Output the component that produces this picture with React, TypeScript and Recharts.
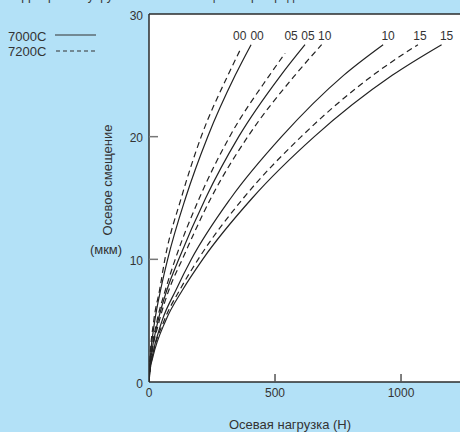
import { LineChart, Line, XAxis, YAxis, CartesianGrid, ReferenceLine } from 'recharts'

const xTicks = [0, 500, 1000]
const yTicks = [0, 10, 20, 30]

// [осевая нагрузка (Н), осевое смещение (мкм)]
const c7200_00 = [[0, 0], [1.4, 1], [4, 2], [19, 5], [42, 7.5], [63, 10], [128, 15], [207, 20], [313, 25], [360, 27]]
const c7000_00 = [[0, 0], [1.6, 1], [5, 2], [23, 5], [46, 7.5], [74, 10], [145, 15], [233, 20], [342, 25], [405, 27.5]]
const c7200_05 = [[0, 0], [2.2, 1], [7, 2], [32, 5], [65, 7.5], [104, 10], [200, 15], [320, 20], [478, 25], [540, 26.8]]
const c7000_05 = [[0, 0], [2.5, 1], [8, 2], [36, 5], [71, 7.5], [118, 10], [225, 15], [356, 20], [523, 25], [619, 27.5]]
const c7200_10 = [[0, 0], [2.8, 1], [9, 2], [41, 5], [79, 7.5], [132, 10], [246, 15], [392, 20], [579, 25], [685, 27.5]]
const c7000_10 = [[0, 0], [3.7, 1], [12, 2], [52, 5], [107, 7.5], [168, 10], [325, 15], [526, 20], [772, 25], [929, 27.5]]
const c7200_15 = [[0, 0], [4.2, 1], [13, 2], [60, 5], [122, 7.5], [195, 10], [375, 15], [604, 20], [888, 25], [1067, 27.5]]
const c7000_15 = [[0, 0], [4.6, 1], [15, 2], [66, 5], [133, 7.5], [213, 10], [410, 15], [656, 20], [965, 25], [1161, 27.5]]

const series = [
  { key: '7200C-00', tag: '00', pts: c7200_00, dashed: true, dx: 0 },
  { key: '7000C-00', tag: '00', pts: c7000_00, dashed: false, dx: 6 },
  { key: '7200C-05', tag: '05', pts: c7200_05, dashed: true, dx: 6 },
  { key: '7000C-05', tag: '05', pts: c7000_05, dashed: false, dx: 3 },
  { key: '7200C-10', tag: '10', pts: c7200_10, dashed: true, dx: 3 },
  { key: '7000C-10', tag: '10', pts: c7000_10, dashed: false, dx: 5 },
  { key: '7200C-15', tag: '15', pts: c7200_15, dashed: true, dx: 2 },
  { key: '7000C-15', tag: '15', pts: c7000_15, dashed: false, dx: 5 },
]

const ink = '#2b2b2b'
const font = '"Liberation Sans", Arial, sans-serif'

const YTick = ({ x, y, payload }: any) => (
  <g>
    {payload.value > 0 && payload.value < 30 && (
      <line x1={x} x2={x + 9} y1={y} y2={y} stroke="#777" strokeWidth={1.5} />
    )}
    <text x={x - 6} y={y + (payload.value === 0 || payload.value === 30 ? 6 : 5.5)} textAnchor="end" fontSize={12} fill="#333" fontFamily={font}>
      {payload.value}
    </text>
  </g>
)

const XTick = ({ x, y, payload }: any) => (
  <g>
    {payload.value > 0 && <line x1={x} x2={x} y1={y} y2={y - 8} stroke="#555" strokeWidth={1.5} />}
    <text x={x} y={y + 15} textAnchor="middle" fontSize={12} fill="#333" fontFamily={font}>
      {payload.value}
    </text>
  </g>
)

const endTag = (tag: string, last: number, dx: number) => (props: any) => {
  if (props.index !== last) return <g />
  return (
    <text x={props.x + dx} y={40} textAnchor="middle" fontSize={12} fill="#333" fontFamily={font}>
      {tag}
    </text>
  )
}

export default function App() {
  return (
    <div
      style={{
        position: 'absolute',
        left: 0,
        top: 0,
        width: 460,
        height: 432,
        background: '#b3e1f7',
        overflow: 'hidden',
        fontFamily: font,
        color: '#333',
      }}
    >
      <div style={{ position: 'absolute', left: 22, top: -11, fontSize: 12, lineHeight: '14px', whiteSpace: 'nowrap' }}>
        Диаграмма упругого осевого смещения при преднатяге
      </div>

      <LineChart width={460} height={432} margin={{ top: 14, right: 0, bottom: 20, left: 119 }}>
        <CartesianGrid fill="#fff" stroke="none" horizontal={false} vertical={false} />
        <XAxis
          type="number"
          dataKey="load"
          domain={[0, 1234]}
          ticks={xTicks}
          height={30}
          tickSize={0}
          tickMargin={0}
          tick={<XTick />}
          axisLine={{ stroke: ink, strokeWidth: 1.5 }}
          allowDataOverflow
        />
        <YAxis
          type="number"
          domain={[0, 30]}
          ticks={yTicks}
          width={30}
          tickSize={0}
          tickMargin={0}
          tick={<YTick />}
          axisLine={{ stroke: ink, strokeWidth: 1.5 }}
          allowDataOverflow
        />
        <ReferenceLine y={30} stroke={ink} strokeWidth={1.5} />
        {series.map((s) => (
          <Line
            key={s.key}
            data={s.pts.map(([load, disp]) => ({ load, disp }))}
            dataKey="disp"
            type="monotone"
            dot={false}
            stroke="#222"
            strokeWidth={1.2}
            strokeDasharray={s.dashed ? '6 4' : undefined}
            isAnimationActive={false}
            label={endTag(s.tag, s.pts.length - 1, s.dx)}
          />
        ))}
      </LineChart>

      {/* legend */}
      <div style={{ position: 'absolute', left: 8, top: 29.5, fontSize: 13, lineHeight: '13px' }}>7000C</div>
      <div style={{ position: 'absolute', left: 8, top: 44.5, fontSize: 13, lineHeight: '13px' }}>7200C</div>
      <svg style={{ position: 'absolute', left: 54, top: 30 }} width={44} height={26}>
        <line x1={1} x2={42} y1={5} y2={5} stroke="#333" strokeWidth={1.2} />
        <line x1={2} x2={42} y1={21} y2={21} stroke="#333" strokeWidth={1.2} strokeDasharray="4 3" />
      </svg>

      {/* axis titles */}
      <div
        style={{
          position: 'absolute',
          left: 107,
          top: 180,
          fontSize: 13,
          lineHeight: '13px',
          whiteSpace: 'nowrap',
          transform: 'translate(-50%, -50%) rotate(-90deg)',
        }}
      >
        Осевое смещение
      </div>
      <div style={{ position: 'absolute', left: 106, top: 249, fontSize: 13, lineHeight: '13px', transform: 'translate(-50%, -50%)' }}>
        (мкм)
      </div>
      <div
        style={{
          position: 'absolute',
          left: 290,
          top: 424,
          fontSize: 13,
          lineHeight: '13px',
          whiteSpace: 'nowrap',
          transform: 'translate(-50%, -50%)',
        }}
      >
        Осевая нагрузка (Н)
      </div>
    </div>
  )
}
